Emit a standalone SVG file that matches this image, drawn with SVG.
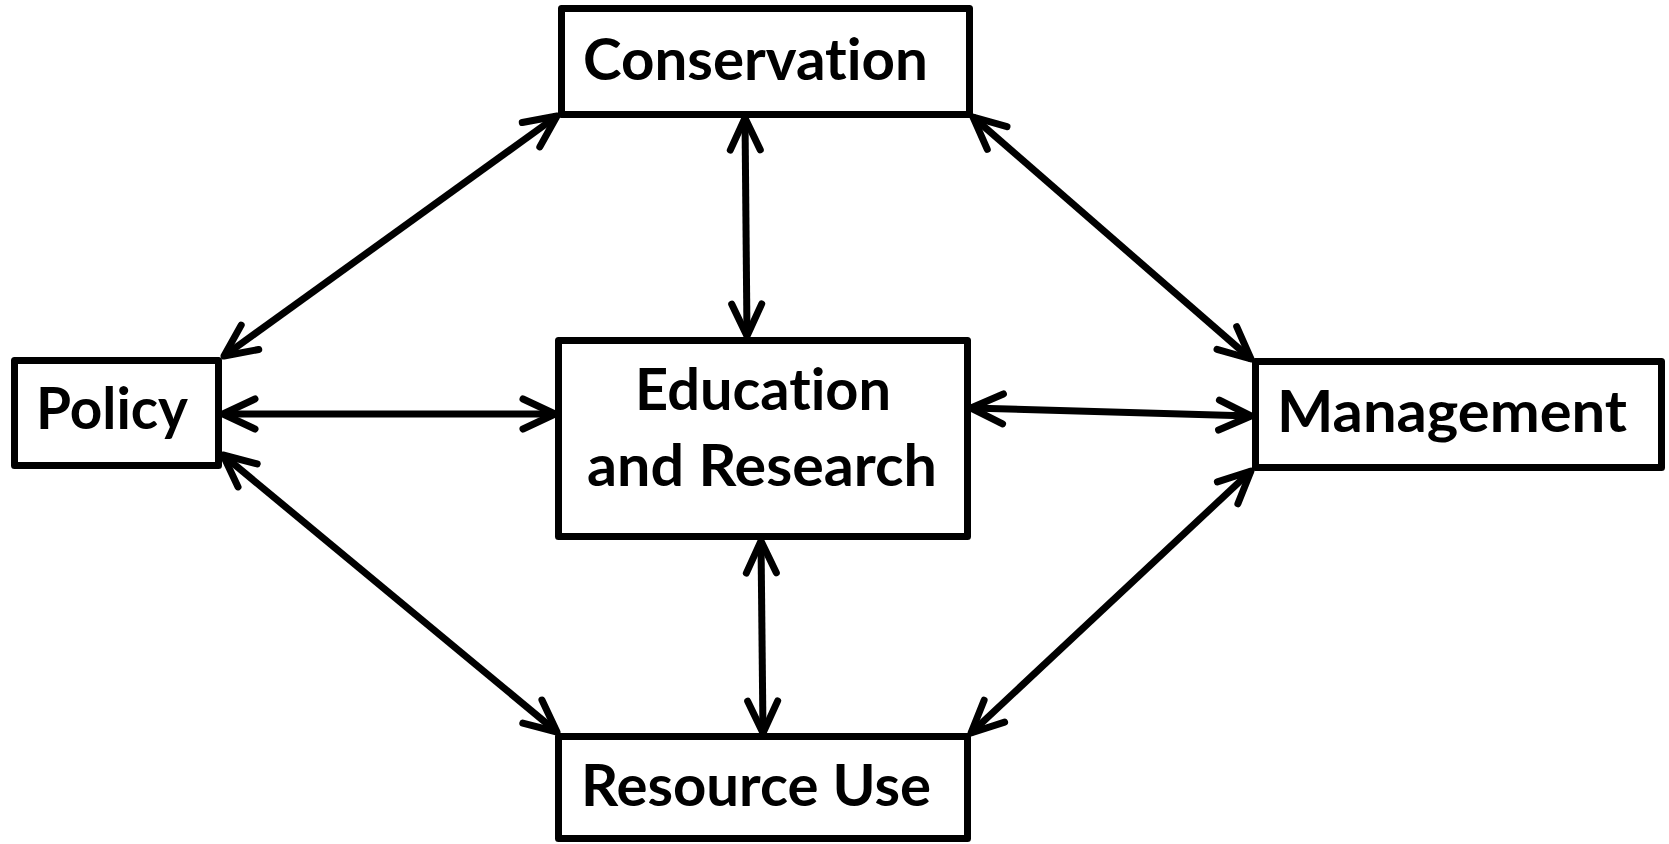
<svg xmlns="http://www.w3.org/2000/svg" width="1669" height="844" viewBox="0 0 1669 844">
<style>
.box{fill:#fff;stroke:#000;stroke-width:7;stroke-linejoin:round}
.lbl{font-family:Lato,"Open Sans","Liberation Sans",sans-serif;font-weight:bold;font-size:58px;fill:#000;font-variant-ligatures:none;font-feature-settings:"liga" 0}
.con{stroke:#000;stroke-width:7;fill:none;marker-start:url(#ah);marker-end:url(#ah)}
</style>
<defs>
<marker id="ah" markerUnits="userSpaceOnUse" orient="auto-start-reverse" refX="0" refY="0" markerWidth="50" markerHeight="50" viewBox="-40 -25 50 50" overflow="visible">
<path d="M-32,-15 L0,0 L-32,15" fill="none" stroke="#000" stroke-width="7" stroke-linecap="round" stroke-linejoin="round"/>
</marker>
</defs>
<rect width="1669" height="844" fill="#fff"/>
<g id="connectors">
<line class="con" x1="224" y1="356" x2="557" y2="116"/>
<line class="con" x1="223" y1="414" x2="555" y2="414"/>
<line class="con" x1="223" y1="455" x2="557" y2="732"/>
<line class="con" x1="745" y1="118" x2="747" y2="336"/>
<line class="con" x1="761" y1="541" x2="763" y2="733"/>
<line class="con" x1="971" y1="408" x2="1251" y2="416"/>
<line class="con" x1="973" y1="117" x2="1251" y2="359"/>
<line class="con" x1="1251" y1="471" x2="971" y2="733"/>
</g>
<g id="conservation">
<rect class="box" x="561.5" y="8.5" width="408" height="106"/>
<text class="lbl" x="583" y="80" textLength="345" lengthAdjust="spacingAndGlyphs">Conservation</text>
</g>
<g id="policy">
<rect class="box" x="14.5" y="360.5" width="204" height="105"/>
<text class="lbl" x="36" y="429" textLength="152" lengthAdjust="spacingAndGlyphs">Policy</text>
</g>
<g id="education">
<rect class="box" x="558.5" y="340.5" width="409" height="196"/>
<text class="lbl" x="635" y="410" textLength="256" lengthAdjust="spacingAndGlyphs">Education</text>
<text class="lbl" x="587" y="486" textLength="350" lengthAdjust="spacingAndGlyphs">and Research</text>
</g>
<g id="management">
<rect class="box" x="1255.5" y="361.5" width="406" height="106"/>
<text class="lbl" x="1277" y="432" textLength="350" lengthAdjust="spacingAndGlyphs">Management</text>
</g>
<g id="resource">
<rect class="box" x="558.5" y="736.5" width="409" height="102"/>
<text class="lbl" x="581" y="806" textLength="350" lengthAdjust="spacingAndGlyphs">Resource Use</text>
</g>
</svg>
